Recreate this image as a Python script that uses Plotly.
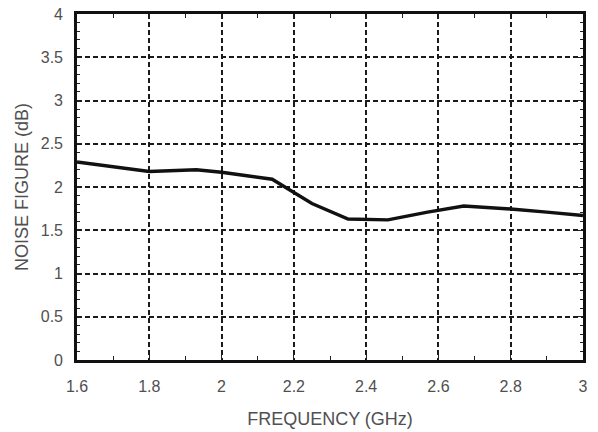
import plotly.graph_objects as go

freq_ghz = [1.6, 1.7, 1.8, 1.93, 2.0, 2.07, 2.14, 2.25, 2.35, 2.46, 2.57, 2.67, 2.8, 2.9, 3.0]
noise_db = [2.29, 2.23, 2.18, 2.20, 2.17, 2.13, 2.09, 1.81, 1.63, 1.62, 1.71, 1.78, 1.746, 1.71, 1.67]

x_ticks = [1.6, 1.8, 2.0, 2.2, 2.4, 2.6, 2.8, 3.0]
x_labels = ["1.6", "1.8", "2", "2.2", "2.4", "2.6", "2.8", "3"]
y_ticks = [0, 0.5, 1, 1.5, 2, 2.5, 3, 3.5, 4]
y_labels = ["0", "0.5", "1", "1.5", "2", "2.5", "3", "3.5", "4"]

fig = go.Figure()
fig.add_trace(go.Scatter(x=freq_ghz, y=noise_db, mode="lines",
                         line=dict(color="#111111", width=3.4), showlegend=False))

tick_font = dict(family="Liberation Sans, Arial, sans-serif", size=16, color="#505050")
title_font = dict(family="Liberation Sans, Arial, sans-serif", size=18, color="#505050")

common = dict(
    showgrid=True, gridcolor="#1a1a1a", griddash="5px,3px", gridwidth=1.7,
    showline=True, linecolor="#111111", linewidth=2.6, mirror="allticks",
    ticks="inside", ticklen=5, tickwidth=1.3, tickcolor="#222222",
    zeroline=False, tickfont=tick_font,
)

fig.update_layout(
    width=598, height=432,
    margin=dict(l=77, r=15, t=14, b=72, autoexpand=False),
    plot_bgcolor="white", paper_bgcolor="white",
    font=tick_font,
    xaxis=dict(
        range=[1.6, 3.0], tickvals=x_ticks, ticktext=x_labels,
        minor=dict(dtick=0.1, tick0=1.6, ticks="inside", ticklen=4, tickwidth=1.3, tickcolor="#222222", showgrid=False),
        title=dict(text="FREQUENCY (GHz)", font=title_font, standoff=19),
        ticklabelstandoff=10,
        **common,
    ),
    yaxis=dict(
        range=[0, 4], tickvals=y_ticks, ticktext=y_labels,
        minor=dict(dtick=0.1, tick0=0, ticks="inside", ticklen=3, tickwidth=1.3, tickcolor="#222222", showgrid=False),
        title=dict(text="NOISE FIGURE (dB)", font=title_font, standoff=8),
        ticklabelstandoff=8,
        **common,
    ),
)

fig.write_html("out.html", config={"displayModeBar": False},
               post_script="document.body.style.margin='0';document.body.style.overflow='hidden';")
